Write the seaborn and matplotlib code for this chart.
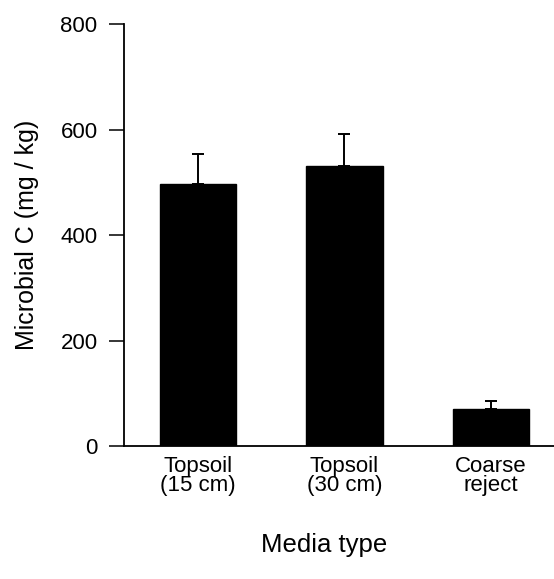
import matplotlib
matplotlib.use("Agg")
import matplotlib.pyplot as plt
import seaborn as sns
import numpy as np

categories = ["Topsoil\n(15 cm)", "Topsoil\n(30 cm)", "Coarse\nreject"]
microbial_c = [497, 531, 70]
err_up = [57, 61, 16]

sns.set_theme(style="ticks")
plt.rcParams["font.family"] = ["Liberation Sans", "DejaVu Sans"]

fig = plt.figure(figsize=(5.54, 5.79), dpi=100)
ax = fig.add_axes([0.2238, 0.2297, 0.7762, 0.7288])

sns.barplot(x=categories, y=microbial_c, color="black", width=0.52,
            saturation=1, edgecolor="black", ax=ax)
pos = np.arange(len(categories))
ax.errorbar(pos, microbial_c, yerr=[np.zeros(len(err_up)), err_up],
            fmt="none", ecolor="black", elinewidth=1.4, capsize=4, capthick=1.4)

ax.set_xlim(-0.505, 2.43)
ax.set_ylim(0, 800)
ax.set_yticks([0, 200, 400, 600, 800])
ax.tick_params(axis="y", length=11, width=1.1, pad=8, labelsize=16, colors="black")
ax.tick_params(axis="x", length=0, pad=7, labelsize=16, colors="black")
for lbl in ax.get_xticklabels():
    lbl.set_linespacing(0.88)

sns.despine(ax=ax)
for s in ["left", "bottom"]:
    ax.spines[s].set_linewidth(1.3)
    ax.spines[s].set_color("black")

ax.set_ylabel("Microbial C (mg / kg)", fontsize=18, color="black")
ax.set_xlabel("Media type", fontsize=18.5, color="black")
ax.yaxis.set_label_coords(-0.198, 0.5)
ax.xaxis.set_label_coords(0.465, -0.206)

fig.savefig("out.png", dpi=100)
